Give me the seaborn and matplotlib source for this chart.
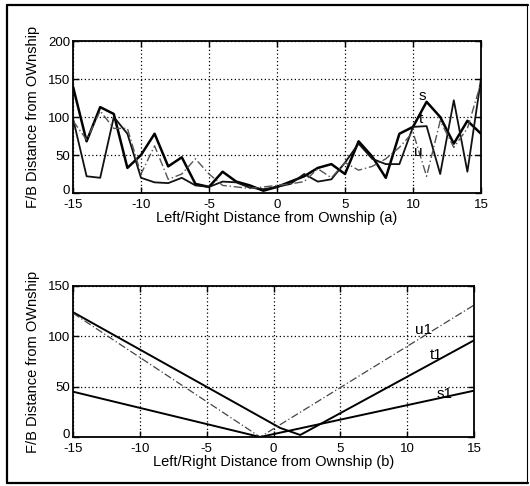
import numpy as np
import pandas as pd
import matplotlib
matplotlib.use("Agg")
import matplotlib.pyplot as plt
from matplotlib.lines import Line2D
from matplotlib.transforms import ScaledTranslation
import seaborn as sns

sns.set_theme(style="white")
plt.rcParams['font.family'] = ['Liberation Sans', 'DejaVu Sans']

# ---- data (top panel, sampled at integer offsets) ----
x_top = list(range(-15, 16))
s_vals = [140, 68, 113, 104, 33, 50, 78, 35, 47, 12, 8, 28, 15, 10, 3, 8,
          15, 22, 33, 38, 25, 68, 48, 20, 78, 87, 120, 100, 65, 95, 78]
t_vals = [98, 22, 20, 100, 78, 20, 14, 13, 20, 10, 8, 15, 14, 7, 5, 8,
          12, 25, 15, 18, 40, 65, 45, 38, 38, 87, 88, 25, 122, 28, 150]
u_vals = [95, 70, 108, 85, 85, 25, 62, 18, 25, 45, 25, 10, 8, 6, 8, 10,
          12, 15, 32, 20, 40, 30, 35, 45, 60, 80, 22, 95, 60, 85, 145]

# ---- data (bottom panel, fitted trends) ----
s1_x = [-15, -1, 15]
s1_y = [45, 0, 46]
t1_x = [-15, 0.5, 2, 15]
t1_y = [124, 9, 2, 96]
u1_x = [-15, -1, 15]
u1_y = [123, 0, 131]

top_labels = [("s", 10.7, 127), ("t", 10.6, 98), ("u", 10.4, 54)]
bot_labels = [("u1", 11.2, 106), ("t1", 12.2, 81), ("s1", 12.8, 43)]

W, H = 530, 486
fig = plt.figure(figsize=(W / 100, H / 100), dpi=100)
fig.patch.set_facecolor("white")

ax1 = fig.add_axes([73 / W, (H - 193) / H, 408 / W, 152 / H])
ax2 = fig.add_axes([73 / W, (H - 437) / H, 401 / W, 151 / H])

df_top = pd.DataFrame({"x": x_top, "s": s_vals, "t": t_vals, "u": u_vals})

sns.lineplot(data=df_top, x="x", y="s", ax=ax1, color="black", linewidth=1.8)
sns.lineplot(data=df_top, x="x", y="t", ax=ax1, color="#111111", linewidth=1.3)
sns.lineplot(data=df_top, x="x", y="u", ax=ax1, color="#555555", linewidth=1.0,
             linestyle=(0, (6, 2, 1, 2)))

sns.lineplot(x=s1_x, y=s1_y, ax=ax2, color="black", linewidth=1.4)
sns.lineplot(x=t1_x, y=t1_y, ax=ax2, color="black", linewidth=1.4)
sns.lineplot(x=u1_x, y=u1_y, ax=ax2, color="#444444", linewidth=0.9,
             linestyle=(0, (6, 2, 1, 2)))

for lab, xx, yy in top_labels:
    ax1.text(xx, yy, lab, fontsize=11, ha="center", va="center", color="black")
for lab, xx, yy in bot_labels:
    ax2.text(xx, yy, lab, fontsize=11, ha="center", va="center", color="black")

ylab = "F/B Distance from OWnship"
for ax, ymax, ytk, xl in [(ax1, 200, [0, 50, 100, 150, 200], "Left/Right Distance from Ownship (a)"),
                          (ax2, 150, [0, 50, 100, 150], "Left/Right Distance from Ownship (b)")]:
    ax.set_xlim(-15, 15)
    ax.set_ylim(0, ymax)
    ax.set_xticks([-15, -10, -5, 0, 5, 10, 15])
    ax.set_xticklabels(["-15", "-10", "-5", "0", "5", "10", "15"])
    ax.set_yticks(ytk)
    ax.set_yticklabels([str(v) for v in ytk])
    ax.grid(True, color="black", linestyle=(0, (1, 2)), linewidth=0.9)
    ax.set_axisbelow(True)
    for sp in ax.spines.values():
        sp.set_visible(True)
        sp.set_color("black")
        sp.set_linewidth(1.3)
    ax.tick_params(axis="both", direction="in", length=4, width=1, color="black",
                   labelsize=9.5, labelcolor="black",
                   top=True, right=True, bottom=True, left=True)
    ax.tick_params(axis="x", pad=4)
    ax.tick_params(axis="y", pad=2)
    ax.set_xlabel(xl, fontsize=10.5, color="black", labelpad=0)
    ax.set_ylabel(ylab, fontsize=10.5, color="black", labelpad=6)
    ax.set_facecolor("white")
    # lift the "0" label slightly so it clears the "-15" below it
    zero_lab = ax.get_yticklabels()[0]
    zero_lab.set_transform(zero_lab.get_transform() + ScaledTranslation(0, 2.5 / 72, fig.dpi_scale_trans))

# outer frame of the scanned figure
lw = 1.6
fig.add_artist(Line2D([7 / W, 7 / W], [1 - 5 / H, 1 - 483 / H], color="black", linewidth=lw))
fig.add_artist(Line2D([7 / W, 528 / W], [1 - 5 / H, 1 - 5 / H], color="black", linewidth=lw))
fig.add_artist(Line2D([7 / W, 528 / W], [1 - 483 / H, 1 - 483 / H], color="black", linewidth=lw))
fig.add_artist(Line2D([527 / W, 527 / W], [1 - 5 / H, 1 - 483 / H], color="black", linewidth=0.8))

fig.savefig("out.png", dpi=100, facecolor="white")
